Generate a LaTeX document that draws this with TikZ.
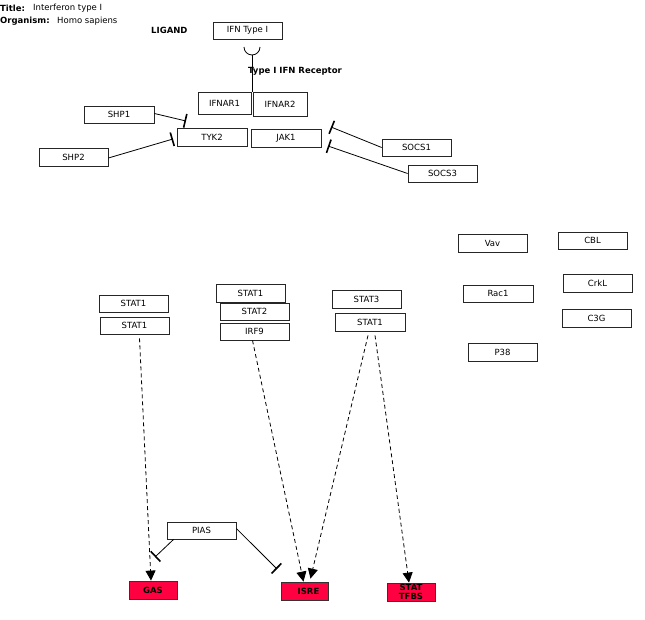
\documentclass[tikz,border=0pt]{standalone}
\usepackage{fontspec}
\setmainfont{DejaVu Sans}
\usetikzlibrary{arrows.meta,calc}
\definecolor{tfbs}{RGB}{255,0,64}
\tikzset{
  gbox/.style={draw=black!85,line width=0.8pt,inner sep=0pt,font=\fontsize{8.5}{9}\selectfont},
  rbox/.style={draw=black!80,fill=tfbs,line width=0.8pt,inner sep=0pt,font=\bfseries\fontsize{8.5}{8.5}\selectfont,align=center},
  lbl/.style={inner sep=0pt,anchor=west,font=\fontsize{8.5}{9}\selectfont},
  blbl/.style={inner sep=0pt,anchor=west,font=\bfseries\fontsize{8.5}{9}\selectfont},
  inhib/.style={line width=0.8pt,-{Bar[width=14pt,line width=1.6pt]}},
  act/.style={line width=0.8pt,dash pattern=on 4pt off 3pt,-{Triangle[length=10pt,width=10pt]}},
}
\newcommand{\gb}[6]{\node[gbox,minimum width=#4-#2,minimum height=#5-#3] (#1) at ({(#2+#4)/2},{(#3+#5)/2}) {#6};}
\begin{document}
\begin{tikzpicture}[x=1pt,y=-1pt]
\useasboundingbox (0,0) rectangle (645,620);
% header
\node[blbl] (tt) at (0,8) {Title:};
\node[lbl] (ttv) at (33,8) {Interferon type I};
\node[blbl] (org) at (0,21) {Organism:};
\node[lbl] (orgv) at (57,21) {Homo sapiens};
\node[blbl] (lig) at (151,30) {LIGAND};
\node[blbl] (rec) at (248,71.5) {Type I IFN Receptor};
% boxes
\gb{ifn}{213}{22}{282}{39}{IFN Type I}
\gb{ifnar1}{198}{92}{251}{114}{IFNAR1}
\gb{ifnar2}{253}{92}{307}{116}{IFNAR2}
\gb{tyk2}{177}{128}{247}{146}{TYK2}
\gb{jak1}{251}{129}{321}{147}{JAK1}
\gb{shp1}{84}{106}{154}{123}{SHP1}
\gb{shp2}{39}{148}{108}{166}{SHP2}
\gb{socs1}{382}{139}{451}{156}{SOCS1}
\gb{socs3}{408}{165}{477}{182}{SOCS3}
\gb{vav}{458}{234}{527}{252}{Vav}
\gb{cbl}{558}{232}{627}{249}{CBL}
\gb{crkl}{563}{274}{632}{292}{CrkL}
\gb{rac1}{463}{285}{533}{302}{Rac1}
\gb{c3g}{562}{309}{631}{327}{C3G}
\gb{p38}{468}{343}{537}{361}{P38}
\gb{stata}{99}{295}{168}{312}{STAT1}
\gb{statb}{100}{317}{169}{334}{STAT1}
\gb{statc}{216}{284}{285}{302}{STAT1}
\gb{stat2}{220}{303}{289}{320}{STAT2}
\gb{irf9}{220}{323}{289}{340}{IRF9}
\gb{stat3}{332}{290}{401}{308}{STAT3}
\gb{statd}{335}{313}{405}{331}{STAT1}
\gb{pias}{167}{522}{236}{539}{PIAS}
\node[rbox,minimum width=48,minimum height=18] (gas) at (153,590) {GAS};
\node[rbox,minimum width=47,minimum height=18] (isre) at (304.5,591) {\hspace{8pt}ISRE};
\node[rbox,minimum width=48,minimum height=18] (tfbs) at (411,592) {STAT\\TFBS};
% receptor symbol
\draw[line width=0.8pt] (244,47) arc[start angle=180,end angle=360,x radius=8,y radius=-8] coordinate (cup);
\coordinate (cupb) at (252,55);
\draw[line width=0.8pt] (cupb) -- (252,92);
% inhibitions
\coordinate (t1) at (186,121);
\coordinate (t2) at (173,139);
\coordinate (t3) at (331,127);
\coordinate (t4) at (328,146);
\coordinate (t5) at (155,557);
\coordinate (t6) at (277,569);
\draw[inhib] (shp1.east) ++(0,-1) -- (t1);
\draw[inhib] (shp2.east) ++(0,1) -- (t2);
\draw[inhib] (socs1.west) -- (t3);
\draw[inhib] (socs3.west) -- (t4);
\draw[inhib] ($(pias.south west)+(7,0)$) -- (t5);
\draw[inhib] ($(pias.east)+(0,-2)$) -- (t6);
% activations
\draw[act] ($(statb.south)+(5,4)$) -- ($(gas.north)+(-2,0)$);
\draw[act] ($(irf9.south)+(-2,0)$) -- ($(isre.north)+(-1,0)$);
\draw[act] ($(statd.south)+(-2,4)$) -- ($(isre.north)+(6,-3)$);
\draw[act] ($(statd.south)+(5,4)$) -- ($(tfbs.north)+(-2,0)$);
\end{tikzpicture}
\end{document}
